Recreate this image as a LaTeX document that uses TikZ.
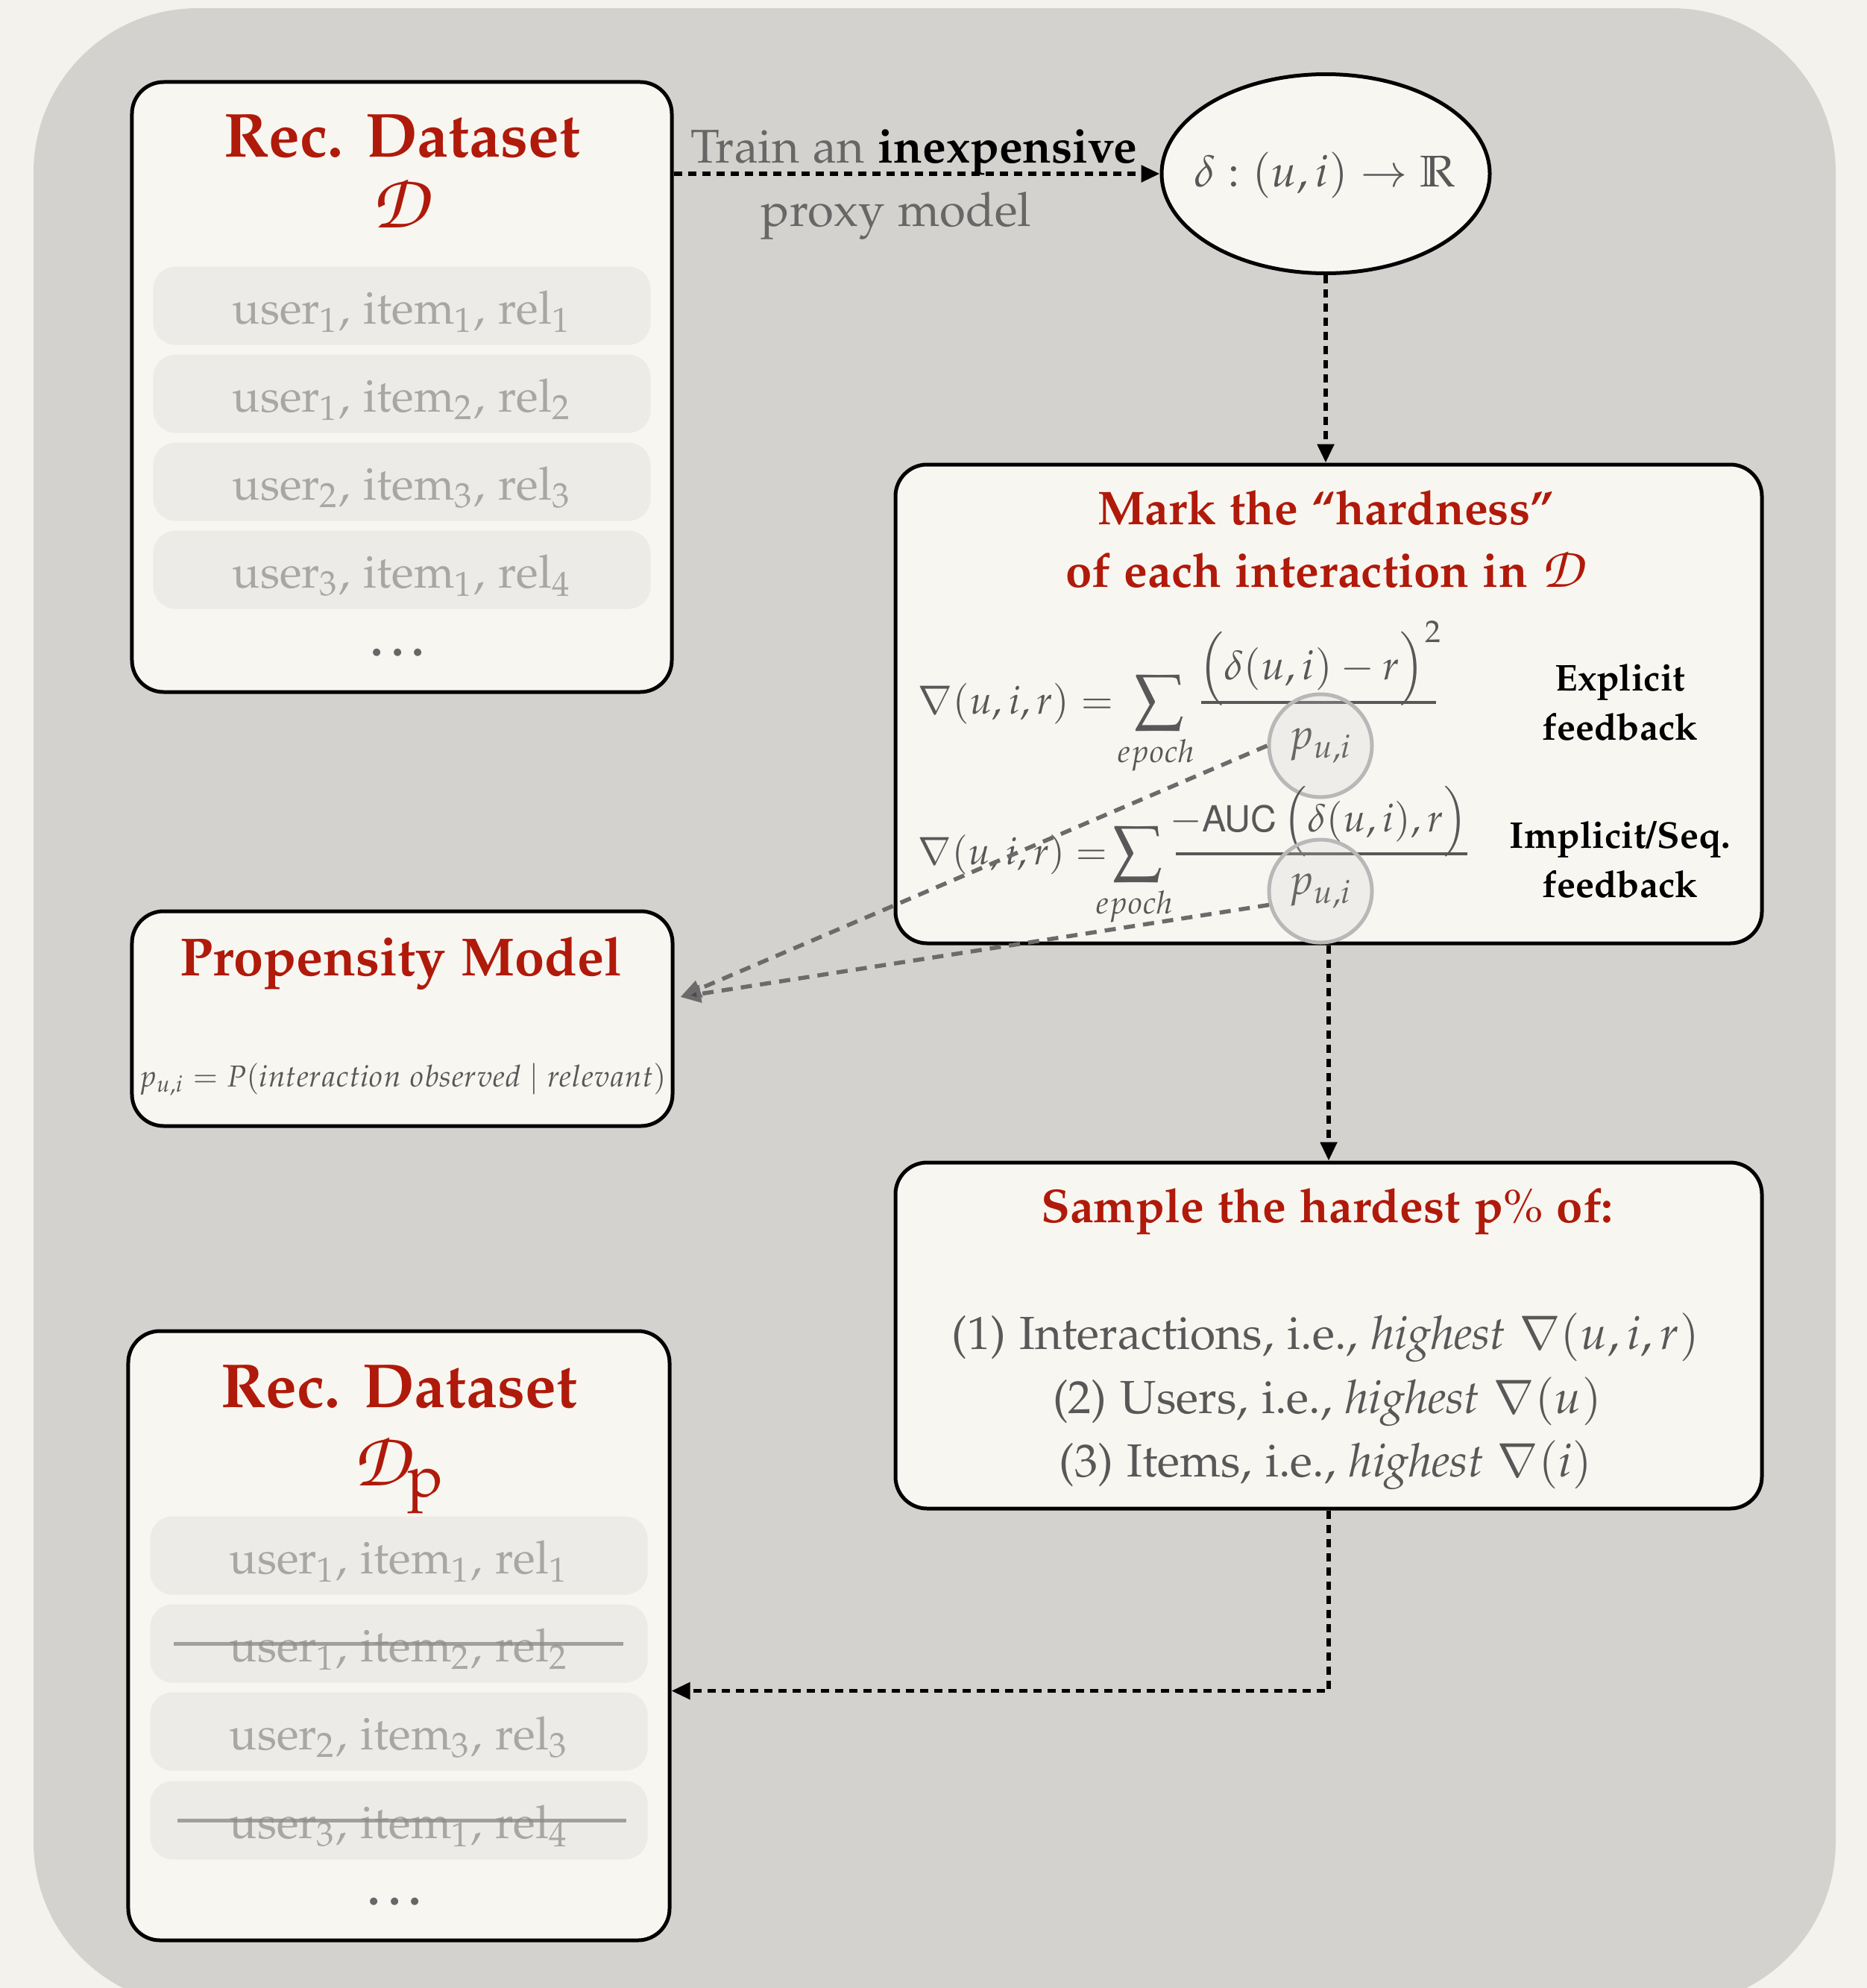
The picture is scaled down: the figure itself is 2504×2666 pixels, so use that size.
\documentclass[tikz,border=0pt]{standalone}
\usepackage[T1]{fontenc}
\usepackage{amsmath}
\usepackage[sc]{mathpazo}
\usepackage[scaled=0.92]{helvet}
\usetikzlibrary{arrows.meta,shapes.geometric,calc}

% brush-script letters for the dataset symbol
\DeclareMathAlphabet{\mathzc}{T1}{pzc}{mb}{it}
\newcommand{\dset}{\mathzc{D}}

\definecolor{paper}{HTML}{F4F2ED}
\definecolor{panel}{HTML}{D3D2CE}
\definecolor{card}{HTML}{F8F6F1}
\definecolor{pill}{HTML}{ECEBE7}
\definecolor{pilltext}{HTML}{A8A7A4}
\definecolor{headred}{HTML}{B01A0A}
\definecolor{ink}{HTML}{585858}
\definecolor{softink}{HTML}{676767}
\definecolor{feedgray}{HTML}{6B6B6B}

\tikzset{
  card/.style={draw=black, line width=1pt, fill=card, rounded corners=8.5pt, inner sep=0pt},
  pillbox/.style={fill=pill, rounded corners=6pt, minimum width=133.4pt, minimum height=21pt, inner sep=0pt},
  rowtext/.style={text=pilltext, font=\fontsize{12.3}{14}\selectfont, anchor=base, inner sep=0pt},
  head/.style={text=headred, font=\fontsize{16.7}{20}\selectfont\bfseries, anchor=base, inner sep=0pt},
  dsym/.style={text=headred, font=\fontsize{21}{24}\selectfont, anchor=base, inner sep=0pt},
  boxhead/.style={text=headred, font=\fontsize{12.7}{15}\selectfont\bfseries, anchor=base, inner sep=0pt},
  label/.style={anchor=base, inner sep=0pt},
  mathtext/.style={text=ink, inner sep=0pt},
  strike/.style={draw=black!45, opacity=0.8, line width=1pt},
  pcircle/.style={circle, draw=black!28, line width=1pt, fill=black!18, fill opacity=0.22,
                  text opacity=1, text=softink, minimum size=27.6pt, inner sep=0pt,
                  font=\fontsize{11.5}{14}\selectfont},
  flow/.style={line width=1.1pt, dash pattern=on 2.2pt off 1.6pt,
               -{Triangle[length=5pt,width=4.4pt]}},
  feed/.style={draw=feedgray, line width=1.1pt, dash pattern=on 3pt off 2.2pt,
               -{Triangle[length=5.5pt,width=4.6pt,fill=black!70]}},
}

\begin{document}
\begin{tikzpicture}[x=0.2pt,y=-0.2pt]
\useasboundingbox (0,0) rectangle (2504,2666);
\fill[paper] (0,0) rectangle (2504,2666);
\begin{scope}
  \clip (0,0) rectangle (2504,2666);
  \fill[panel, rounded corners=44pt] (45,11) rectangle (2462,2690);
\end{scope}

% ---------- cards ----------
\node[card, minimum width=144.8pt, minimum height=163.6pt] (ds1) at (539,519) {};
\node[card, minimum width=145pt, minimum height=57.6pt] (prop) at (539.5,1366) {};
\node[card, minimum width=145.2pt, minimum height=163.4pt] (ds2) at (535,2193.5) {};
\node[card, minimum width=232.4pt, minimum height=128.4pt] (mark) at (1782,944) {};
\node[card, minimum width=232.4pt, minimum height=92.8pt] (sample) at (1782,1791) {};
\node[draw=black, line width=1pt, fill=card, ellipse, minimum width=88pt,
      minimum height=53.4pt, inner sep=0pt] (proxy) at (1778,233) {};

% ---------- proxy model ----------
\node[label, text=ink, font=\fontsize{11.9}{14}\selectfont] (proxyT) at (1777,250)
  {$\delta : (u,i) \to \mathbb{R}$};
\node[label, text=softink, font=\fontsize{12.7}{15}\selectfont] (trainA) at (1226,218)
  {Train an \textcolor{black}{\textbf{inexpensive}}};
\node[label, text=softink, font=\fontsize{12.7}{15}\selectfont] (trainB) at (1202,303)
  {proxy model};

% ---------- original dataset ----------
\node[head] (ds1T) at (539,210) {Rec. Dataset};
\node[dsym] (ds1D) at (539,305) {$\dset$};
\foreach \y/\u/\i/\r [count=\k] in {410/1/1/1, 528/1/2/2, 646/2/3/3, 764/3/1/4} {
  \node[pillbox] (ra\k) at (539,\y) {};
  \node[rowtext] (ra\k t) at ($(ra\k.center)+(0,24)$) {user$_{\u}$, item$_{\i}$, rel$_{\r}$};
}
\node[label, text=softink, font=\fontsize{13}{16}\selectfont\bfseries] (ds1dots) at (539,879) {\dots};

% ---------- sampled dataset ----------
\node[head] (ds2T) at (535,1887) {Rec. Dataset};
\node[dsym] (ds2D) at (535,1992) {$\dset_{\mathrm{p}}$};
\foreach \y/\u/\i/\r [count=\k] in {2086/1/1/1, 2204/1/2/2, 2322/2/3/3, 2441/3/1/4} {
  \node[pillbox] (rb\k) at (535,\y) {};
  \node[rowtext] (rb\k t) at ($(rb\k.center)+(0,24)$) {user$_{\u}$, item$_{\i}$, rel$_{\r}$};
}
\draw[strike] ([xshift=-60.4pt]rb2.center) -- ([xshift=60.2pt]rb2.center);
\draw[strike] ([xshift=-59.4pt]rb4.center) -- ([xshift=61pt]rb4.center);
\node[label, text=softink, font=\fontsize{13}{16}\selectfont\bfseries] (ds2dots) at (535,2554) {\dots};

% ---------- hardness card ----------
\node[boxhead] (markT1) at (1778,703) {Mark the ``hardness''};
\node[boxhead] (markT2) at (1778,787) {of each interaction in {\fontsize{15.5}{15}\selectfont$\dset$}};

\node[mathtext, anchor=base west, font=\fontsize{10.5}{13}\selectfont] (g1L) at (1230,957) {$\nabla(u,i,r) =$};
\node[mathtext, font=\fontsize{12}{14}\selectfont] (g1S) at (1554,943) {$\displaystyle\sum$};
\node[mathtext, anchor=base, font=\fontsize{8.5}{10}\selectfont] (g1E) at (1551,1022) {$epoch$};
\node[mathtext, anchor=base, font=\fontsize{11}{14}\selectfont] (g1N) at (1771,911) {$\Bigl(\delta(u,i)-r\Bigr)^{2}$};
\draw[ink, line width=0.7pt] (1611,942) -- (1926,942);
\node[pcircle] (p1) at (1771,1000) {$p_{u,i}$};

\node[label, font=\fontsize{10}{12}\selectfont\bfseries] (exp1) at (2173,926) {Explicit};
\node[label, font=\fontsize{10}{12}\selectfont\bfseries] (exp2) at (2173,992) {feedback};

\node[mathtext, anchor=base west, font=\fontsize{10.2}{13}\selectfont] (g2L) at (1230,1159) {$\nabla(u,i,r) =$};
\node[mathtext, font=\fontsize{12}{14}\selectfont] (g2S) at (1525,1146) {$\displaystyle\sum$};
\node[mathtext, anchor=base, font=\fontsize{8.5}{10}\selectfont] (g2E) at (1522,1225) {$epoch$};
\node[mathtext, anchor=base, font=\fontsize{10.5}{13}\selectfont] (g2N) at (1769,1115)
  {$-\text{\sffamily AUC}\,\Bigl(\delta(u,i),r\Bigr)$};
\draw[ink, line width=0.7pt] (1577,1145) -- (1968,1145);
\node[pcircle] (p2) at (1771,1195) {$p_{u,i}$};

\node[label, font=\fontsize{10}{12}\selectfont\bfseries] (imp1) at (2173,1137) {Implicit/Seq.};
\node[label, font=\fontsize{10}{12}\selectfont\bfseries] (imp2) at (2173,1203) {feedback};

% ---------- propensity card ----------
\node[boxhead, font=\fontsize{14.4}{17}\selectfont\bfseries] (propT) at (538,1308) {Propensity Model};
\node[label, text=ink, font=\fontsize{8.1}{10}\selectfont] (propF) at (540,1457)
  {$p_{u,i} = P(interaction~observed \mid relevant)$};

% ---------- sampling card ----------
\node[boxhead] (sampT) at (1780,1639) {Sample the hardest p{\mdseries\%} of:};
\node[label, text=ink, font=\fontsize{12.45}{15}\selectfont] (s1) at (1778,1809)
  {(1) Interactions, i.e., \textit{highest} $\nabla(u,i,r)$};
\node[label, text=ink, font=\fontsize{12.45}{15}\selectfont] (s2) at (1780,1895)
  {(2) Users, i.e., \textit{highest} $\nabla(u)$};
\node[label, text=ink, font=\fontsize{12.45}{15}\selectfont] (s3) at (1778,1980)
  {(3) Items, i.e., \textit{highest} $\nabla(i)$};

% ---------- connectors ----------
\draw[flow] (ds1.east |- proxy.west) -- (proxy.west);
\draw[flow] (proxy.south) -- (proxy.south |- mark.north);
\draw[flow] (mark.south) -- (sample.north);
\coordinate (ds2in) at ([yshift=-14.8pt]ds2.east);
\draw[flow] (sample.south) |- (ds2in);

\coordinate (propin) at ([xshift=1.6pt,yshift=5.8pt]prop.east);
\draw[feed] (p1.west) -- (propin);
\draw[feed] (p2.195) -- (propin);
\end{tikzpicture}
\end{document}
